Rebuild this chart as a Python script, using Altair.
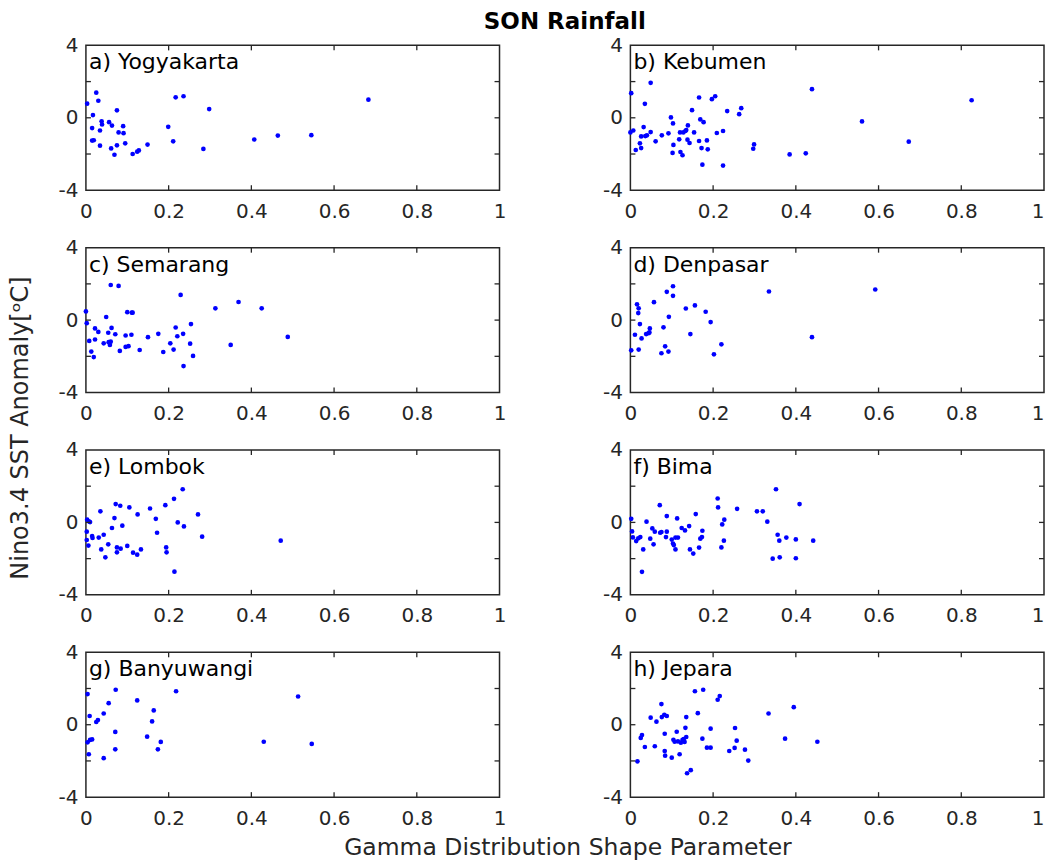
import altair as alt
import pandas as pd

# ---- per-station data: shape parameter (x) and Nino3.4 SST anomaly (y) ----
yog_shape = [0.003, 0.025, 0.030, 0.017, 0.015, 0.034, 0.015, 0.019, 0.034, 0.038,
             0.039, 0.056, 0.063, 0.075, 0.079, 0.090, 0.091, 0.061, 0.075, 0.069,
             0.095, 0.113, 0.124, 0.128, 0.149, 0.199, 0.211, 0.217, 0.236, 0.298,
             0.284, 0.407, 0.464, 0.545, 0.683]
yog_sst = [0.78, 1.39, 0.94, 0.15, -0.57, -0.70, -1.26, -1.24, -1.54, -0.19,
           -0.37, -0.24, -0.43, 0.41, -0.81, -0.46, -0.85, -1.69, -1.52, -2.04,
           -1.41, -2.00, -1.87, -1.80, -1.48, -0.50, -1.30, 1.13, 1.19, 0.48,
           -1.72, -1.20, -0.98, -0.96, 1.00]

keb_shape = [0.002, 0.000, 0.007, 0.013, 0.035, 0.032, 0.023, 0.026, 0.026, 0.036,
             0.040, 0.049, 0.049, 0.061, 0.076, 0.092, 0.098, 0.103, 0.104, 0.102,
             0.118, 0.120, 0.121, 0.126, 0.128, 0.133, 0.135, 0.139, 0.138, 0.143,
             0.149, 0.154, 0.166, 0.166, 0.169, 0.172, 0.174, 0.177, 0.185, 0.187,
             0.197, 0.205, 0.209, 0.224, 0.224, 0.234, 0.263, 0.268, 0.297, 0.299,
             0.385, 0.424, 0.439, 0.560, 0.673, 0.825]
keb_sst = [1.36, -0.81, -0.70, -1.78, 0.77, -0.51, -1.41, -1.67, -1.03, -1.01,
           -0.97, -0.79, 1.93, -1.30, -0.97, -0.86, 0.02, -0.31, -1.50, -1.94,
           -1.19, -0.81, -1.89, -2.07, -0.81, -0.73, -0.68, -0.42, -1.21, -1.39,
           0.42, -0.81, 1.12, -1.28, -0.09, -1.67, -2.59, -0.24, -1.25, -1.74,
           1.03, 1.19, -0.84, -0.73, -2.64, 0.37, 0.20, 0.53, -1.71, -1.47,
           -2.02, -1.96, 1.58, -0.20, -1.32, 0.97]

sem_shape = [0.000, 0.002, 0.008, 0.013, 0.019, 0.022, 0.030, 0.022, 0.043, 0.049,
             0.054, 0.055, 0.058, 0.060, 0.060, 0.062, 0.071, 0.079, 0.082, 0.096,
             0.096, 0.100, 0.103, 0.110, 0.111, 0.113, 0.130, 0.150, 0.175, 0.187,
             0.204, 0.212, 0.217, 0.221, 0.229, 0.235, 0.236, 0.252, 0.254, 0.259,
             0.313, 0.350, 0.369, 0.425, 0.488]
sem_sst = [0.48, -0.17, -1.15, -1.74, -2.04, -0.46, -0.65, -1.07, -1.28, 0.17,
           -0.70, -1.22, -1.37, -1.19, 1.94, -0.43, -0.78, 1.89, -1.70, -0.85,
           -1.48, 0.44, -1.44, -0.81, 0.41, 0.41, -1.65, -0.94, -0.76, -1.76,
           -1.28, -1.63, -0.41, -0.89, 1.39, -0.76, -2.54, -1.30, -0.22, -1.98,
           0.65, -1.37, 1.00, 0.65, -0.93]

den_shape = [0.002, 0.011, 0.016, 0.020, 0.019, 0.020, 0.023, 0.027, 0.038, 0.044,
             0.047, 0.046, 0.057, 0.075, 0.080, 0.084, 0.088, 0.092, 0.093, 0.103,
             0.103, 0.134, 0.145, 0.156, 0.182, 0.194, 0.202, 0.220, 0.335, 0.439,
             0.592]
den_sst = [-1.67, -0.81, 0.87, 0.65, 0.39, -1.63, -0.22, -1.01, -0.77, -0.72,
           -0.46, -0.68, 0.99, -1.83, -0.40, -1.45, 1.56, -1.74, 0.18, 1.87,
           1.34, 0.64, -0.77, 0.81, 0.46, -0.11, -1.89, -1.34, 1.58, -0.94,
           1.69]

lom_shape = [0.002, 0.002, 0.003, 0.007, 0.010, 0.006, 0.015, 0.016, 0.031, 0.035,
             0.037, 0.043, 0.047, 0.054, 0.063, 0.069, 0.072, 0.075, 0.075, 0.083,
             0.084, 0.088, 0.100, 0.105, 0.114, 0.124, 0.125, 0.133, 0.155, 0.169,
             0.172, 0.192, 0.194, 0.195, 0.213, 0.214, 0.222, 0.234, 0.237, 0.271,
             0.281, 0.471]
lom_sst = [-0.97, -0.51, 0.15, 0.06, 0.02, -1.28, -0.75, -0.86, -0.84, 0.61,
           -1.49, -0.68, -1.93, -1.21, -0.31, 0.24, 1.01, -1.38, -1.65, 0.92,
           -1.45, -0.18, -1.30, 0.83, -1.67, -1.78, 0.44, -1.49, 0.77, 0.20,
           -0.57, 0.95, -1.38, -1.65, 1.30, -2.72, 0.00, 1.83, -0.22, 0.44,
           -0.79, -1.01]

bim_shape = [0.002, 0.004, 0.006, 0.014, 0.019, 0.024, 0.028, 0.031, 0.039, 0.048,
             0.053, 0.056, 0.059, 0.071, 0.072, 0.075, 0.086, 0.088, 0.088, 0.100,
             0.103, 0.105, 0.109, 0.109, 0.113, 0.115, 0.124, 0.132, 0.142, 0.144,
             0.152, 0.158, 0.166, 0.169, 0.173, 0.174, 0.211, 0.212, 0.220, 0.222,
             0.227, 0.226, 0.258, 0.306, 0.320, 0.331, 0.344, 0.352, 0.356, 0.360,
             0.361, 0.377, 0.400, 0.400, 0.409, 0.442]
bim_sst = [0.20, -0.50, -0.83, -1.03, -0.88, -0.81, -2.73, -1.49, 0.04, -0.90,
           -0.33, -1.21, -0.51, 0.95, -0.57, -0.53, -0.81, 0.35, -0.51, -0.95,
           -1.17, -1.25, -1.49, -0.84, 0.22, -0.84, -0.31, -0.44, -0.20, -1.49,
           -1.72, 0.46, -1.39, -0.90, -0.81, -0.46, 1.32, 0.83, -1.38, -0.11,
           0.15, -1.01, 0.75, 0.61, 0.61, 0.04, -2.00, 1.83, -0.68, -1.01,
           -1.93, -0.84, -0.94, -1.98, 1.01, -1.01]

ban_shape = [0.004, 0.004, 0.007, 0.009, 0.010, 0.015, 0.025, 0.029, 0.043, 0.043,
             0.055, 0.071, 0.071, 0.072, 0.124, 0.148, 0.160, 0.164, 0.174, 0.181,
             0.218, 0.430, 0.513, 0.546]
ban_sst = [1.69, -0.97, -1.63, 0.48, -0.84, -0.81, 0.15, 0.26, -1.85, 0.62,
           1.19, -0.40, -1.36, 1.93, 1.34, -0.66, 0.18, 0.79, -1.36, -0.95,
           1.85, -0.94, 1.56, -1.06]

jep_shape = [0.017, 0.025, 0.028, 0.035, 0.049, 0.059, 0.063, 0.075, 0.076, 0.082,
             0.083, 0.083, 0.084, 0.088, 0.100, 0.104, 0.107, 0.112, 0.115, 0.119,
             0.122, 0.126, 0.129, 0.131, 0.133, 0.135, 0.135, 0.137, 0.146, 0.156,
             0.163, 0.174, 0.176, 0.185, 0.194, 0.194, 0.211, 0.216, 0.239, 0.252,
             0.253, 0.257, 0.277, 0.285, 0.334, 0.374, 0.395, 0.452]
jep_sst = [-2.02, -0.73, -0.57, -1.23, 0.39, -1.19, 0.17, 1.14, 0.42, 0.55,
           -0.50, -1.45, -1.71, 0.48, -1.82, -0.83, -0.94, -0.39, -0.92, -1.63,
           -0.99, -0.84, -0.79, -0.95, -0.17, 0.42, -0.68, -2.68, -2.51, 1.85,
           0.64, -0.77, 1.93, -1.27, -0.22, -1.27, 1.38, 1.58, -1.45, -1.28,
           -0.18, -0.88, -1.38, -1.98, 0.62, -0.77, 0.97, -0.94]

panel_labels = ["a) Yogyakarta", "b) Kebumen", "c) Semarang", "d) Denpasar",
                "e) Lombok", "f) Bima", "g) Banyuwangi", "h) Jepara"]
panel_data = [(yog_shape, yog_sst), (keb_shape, keb_sst), (sem_shape, sem_sst),
              (den_shape, den_sst), (lom_shape, lom_sst), (bim_shape, bim_sst),
              (ban_shape, ban_sst), (jep_shape, jep_sst)]

x_tick_values = [0, 0.2, 0.4, 0.6, 0.8, 1]
y_label_values = [-4, 0, 4]
x_inner_ticks = [0.2, 0.4, 0.6, 0.8]
y_inner_ticks = [-2, 0, 2]

PW, PH = 414, 145
INK = "#262626"
FONT = "DejaVu Sans"
TICK_LEN = 5

x_scale = alt.Scale(domain=[0, 1], nice=False, zero=False)
y_scale = alt.Scale(domain=[-4, 4], nice=False, zero=False)


def panel(label, xs, ys, y_title=False, x_title=False, right_col=False):
    df = pd.DataFrame({"shape": xs, "sst": ys})

    x_axis_kw = dict(values=x_tick_values, format=".1~f", labelFlush=False,
                     ticks=False, domain=False, grid=False, labelPadding=11,
                     labelFontSize=20, labelFont=FONT, labelColor=INK)
    if right_col:
        # keep the last label of the right-hand column inside the figure edge
        x_axis_kw.update(labelAlign={"condition": {"test": "datum.value >= 1", "value": "right"},
                                     "value": "center"})
    if x_title:
        x_axis_kw.update(title="Gamma Distribution Shape Parameter",
                         titleFontSize=23.5, titleFont=FONT, titleColor=INK,
                         titleFontWeight="normal", titleBaseline="alphabetic",
                         titleX=482, titleY=57, titleAlign="center")
    else:
        x_axis_kw.update(title=None)

    y_axis_kw = dict(values=y_label_values, labelExpr="'' + datum.value",
                     ticks=False, domain=False, grid=False, labelPadding=8,
                     labelFontSize=20, labelFont=FONT, labelColor=INK)
    if y_title:
        y_axis_kw.update(title="Nino3.4 SST Anomaly[ᵒC]",
                         titleFontSize=24, titleFont=FONT, titleColor=INK,
                         titleFontWeight="normal", titleBaseline="alphabetic",
                         titleAngle=270, titleX=-58, titleY=180,
                         titleAlign="center")
    else:
        y_axis_kw.update(title=None)

    x_enc = dict(scale=x_scale, axis=alt.Axis(**x_axis_kw))
    y_enc = dict(scale=y_scale, axis=alt.Axis(**y_axis_kw))

    points = alt.Chart(df).mark_circle(size=22, color="#0000ff", opacity=1).encode(
        x=alt.X("shape:Q", **x_enc),
        y=alt.Y("sst:Q", **y_enc),
    )

    # inward-pointing tick marks on all four sides of the box
    xt = pd.DataFrame({"t": x_inner_ticks})
    yt = pd.DataFrame({"t": y_inner_ticks})
    tick_style = dict(color=INK, strokeWidth=1.3)
    top_ticks = alt.Chart(xt).mark_rule(**tick_style).encode(
        x=alt.X("t:Q", **x_enc), y=alt.value(0), y2=alt.value(TICK_LEN))
    bottom_ticks = alt.Chart(xt).mark_rule(**tick_style).encode(
        x=alt.X("t:Q", **x_enc), y=alt.value(PH), y2=alt.value(PH - TICK_LEN))
    left_ticks = alt.Chart(yt).mark_rule(**tick_style).encode(
        y=alt.Y("t:Q", **y_enc), x=alt.value(0), x2=alt.value(TICK_LEN))
    right_ticks = alt.Chart(yt).mark_rule(**tick_style).encode(
        y=alt.Y("t:Q", **y_enc), x=alt.value(PW), x2=alt.value(PW - TICK_LEN))

    text = alt.Chart(pd.DataFrame({"label": [label]})).mark_text(
        align="left", baseline="alphabetic", fontSize=22, font=FONT, color="black"
    ).encode(x=alt.value(3), y=alt.value(24), text="label:N")

    return alt.layer(points, top_ticks, bottom_ticks, left_ticks, right_ticks, text).properties(
        width=PW, height=PH)


panels = []
for i, (label, (xs, ys)) in enumerate(zip(panel_labels, panel_data)):
    panels.append(panel(label, xs, ys, y_title=(i == 2), x_title=(i == 6),
                        right_col=(i % 2 == 1)))

# the suptitle sits over the middle of the panel grid, not the whole figure
chart = alt.concat(*panels, columns=2, spacing={"row": 57.5, "column": 131},
                   bounds="flush").properties(
    title=alt.TitleParams("SON Rainfall", fontSize=23, fontWeight="bold", font=FONT,
                          color="black", anchor="middle", offset=1, dx=38),
    padding={"left": 8, "top": 10, "right": 0, "bottom": 0},
    background="white",
).resolve_scale(x="independent", y="independent").configure_view(
    stroke=INK, strokeWidth=1.5)

chart.save("out.html", embed_options={"renderer": "svg", "actions": False})
